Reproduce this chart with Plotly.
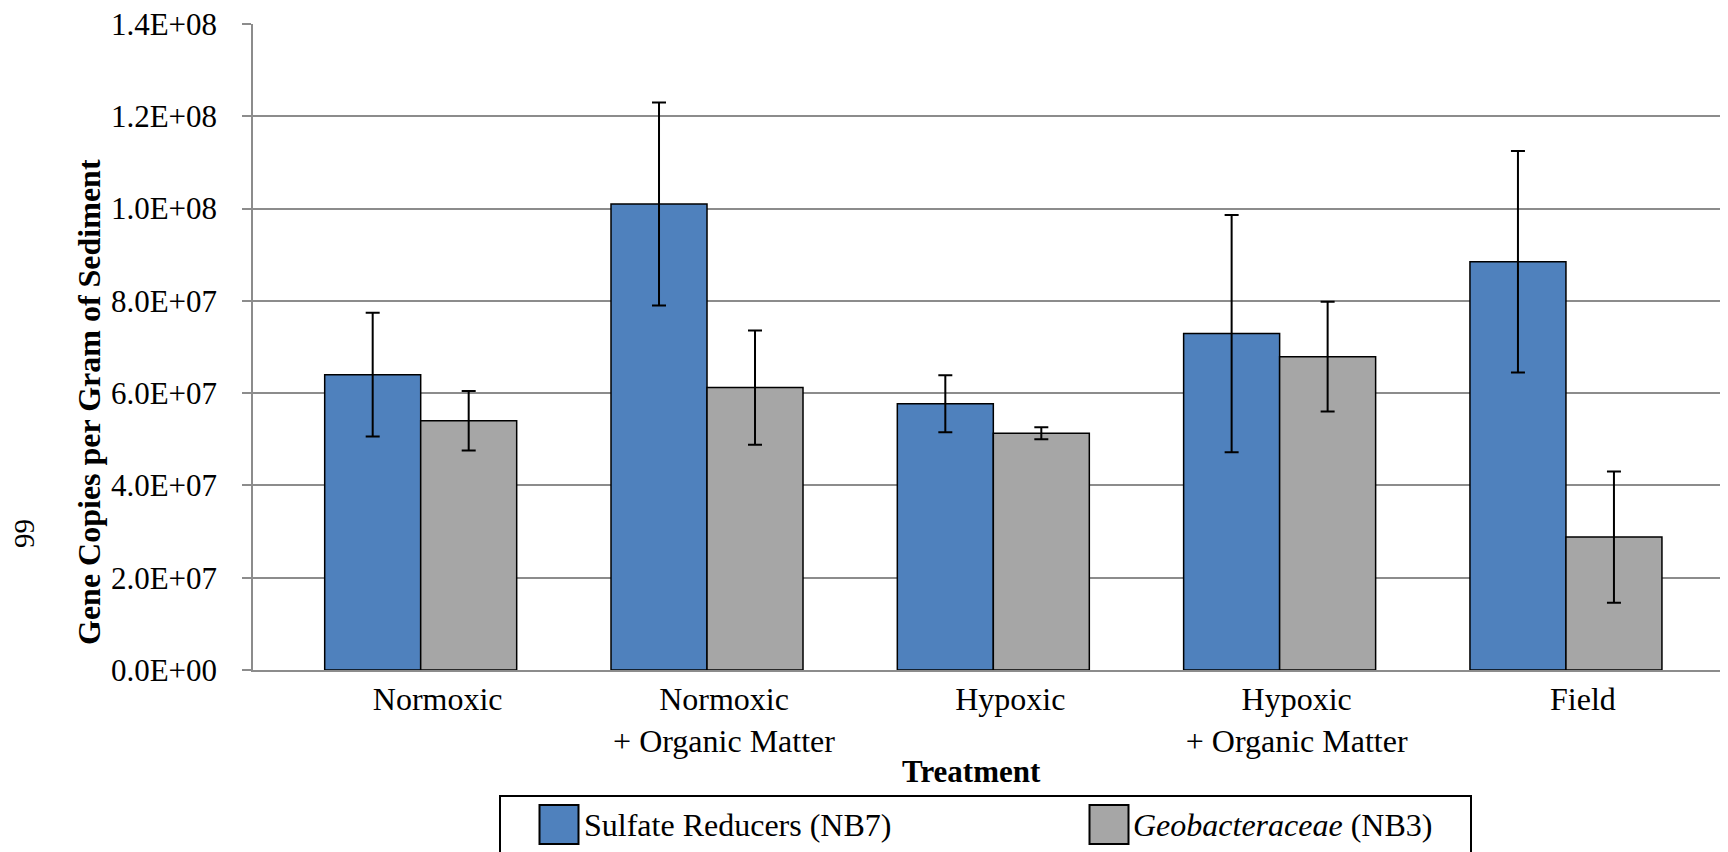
import plotly.graph_objects as go

# ---- data ----
categories = ["Normoxic", "Normoxic<br>+ Organic Matter", "Hypoxic",
              "Hypoxic<br>+ Organic Matter", "Field"]
series_names = ["Sulfate Reducers (NB7)", "<i>Geobacteraceae</i> (NB3)"]
sulfate_vals = [6.40e7, 1.01e8, 5.77e7, 7.29e7, 8.85e7]
sulfate_err = [1.34e7, 2.20e7, 0.62e7, 2.57e7, 2.40e7]
geo_vals = [5.40e7, 6.12e7, 5.13e7, 6.79e7, 2.88e7]
geo_err = [0.645e7, 1.24e7, 0.13e7, 1.19e7, 1.42e7]
y_tickvals = [0, 2e7, 4e7, 6e7, 8e7, 1e8, 1.2e8, 1.4e8]
y_ticktext = ["0.0E+00", "2.0E+07", "4.0E+07", "6.0E+07", "8.0E+07",
              "1.0E+08", "1.2E+08", "1.4E+08"]

# ---- layout geometry (page pixel coordinates; page body has 8px margin) ----
OFF = 8
W, H = 1728 - OFF, 852 - OFF
L, R, T, B = 253, 1728, 24, 670   # plot area in page pixels
FONT = "Liberation Serif, Times New Roman, serif"
BLUE = "#4F81BD"
GRAY = "#A6A6A6"
GRID = "#8C8C8C"


def px2x(p):
    return (p - L) / (R - L)


def px2y(p):
    return (B - p) / (B - T)


fig = go.Figure()
fig.add_trace(go.Bar(
    x=categories, y=sulfate_vals, name=series_names[0],
    marker=dict(color=BLUE, line=dict(color="black", width=1.5)),
    error_y=dict(type="data", array=sulfate_err, color="black",
                 thickness=2, width=7),
))
fig.add_trace(go.Bar(
    x=categories, y=geo_vals, name=series_names[1],
    marker=dict(color=GRAY, line=dict(color="black", width=1.5)),
    error_y=dict(type="data", array=geo_err, color="black",
                 thickness=2, width=7),
))

shapes = [
    # legend box
    dict(type="rect", xref="paper", yref="paper",
         x0=px2x(500), x1=px2x(1471), y0=px2y(880), y1=px2y(796),
         line=dict(color="black", width=2), fillcolor="white", layer="above"),
    dict(type="rect", xref="paper", yref="paper",
         x0=px2x(539.5), x1=px2x(578.5), y0=px2y(844), y1=px2y(805),
         line=dict(color="black", width=2), fillcolor=BLUE, layer="above"),
    dict(type="rect", xref="paper", yref="paper",
         x0=px2x(1089.5), x1=px2x(1128.5), y0=px2y(844), y1=px2y(805),
         line=dict(color="black", width=2), fillcolor=GRAY, layer="above"),
]

annotations = [
    dict(text="<b>Gene Copies per Gram of Sediment</b>", textangle=-90,
         xref="paper", yref="paper", x=px2x(89), y=px2y(402),
         xanchor="center", yanchor="middle", showarrow=False,
         font=dict(family=FONT, size=32, color="black")),
    dict(text="<b>Treatment</b>", xref="paper", yref="paper",
         x=px2x(971), y=px2y(771), xanchor="center", yanchor="middle",
         showarrow=False, font=dict(family=FONT, size=31, color="black")),
    dict(text="99", textangle=-90, xref="paper", yref="paper",
         x=px2x(24), y=px2y(534), xanchor="center", yanchor="middle",
         showarrow=False, font=dict(family=FONT, size=29, color="black")),
    dict(text=series_names[0], xref="paper", yref="paper",
         x=px2x(582), y=px2y(825), xanchor="left", yanchor="middle",
         showarrow=False, font=dict(family=FONT, size=32, color="black")),
    dict(text=series_names[1], xref="paper", yref="paper",
         x=px2x(1131), y=px2y(825), xanchor="left", yanchor="middle",
         showarrow=False, font=dict(family=FONT, size=32, color="black")),
]

fig.update_layout(
    width=W, height=H,
    margin=dict(l=L - OFF, r=1728 - R, t=T - OFF, b=852 - B, pad=0),
    paper_bgcolor="white", plot_bgcolor="white",
    barmode="group", bargap=0.3294, bargroupgap=0,
    showlegend=False,
    font=dict(family=FONT, size=31, color="black"),
    shapes=shapes, annotations=annotations,
    xaxis=dict(type="category", range=[-0.5857, 4.566],
               showline=True, linecolor=GRID, linewidth=1.5,
               showgrid=False, ticks="", ticklabelshift=17,
               tickfont=dict(family=FONT, size=32, color="black")),
    yaxis=dict(range=[0, 1.40001e8], tickvals=y_tickvals, ticktext=y_ticktext,
               showgrid=True, gridcolor=GRID, gridwidth=1.5,
               showline=True, linecolor=GRID, linewidth=1.5,
               ticks="outside", ticklen=9, tickcolor=GRID, tickwidth=1.5,
               ticklabelstandoff=19, ticklabeloverflow="allow",
               zeroline=False,
               tickfont=dict(family=FONT, size=31, color="black")),
)

fig.write_html("out.html")
